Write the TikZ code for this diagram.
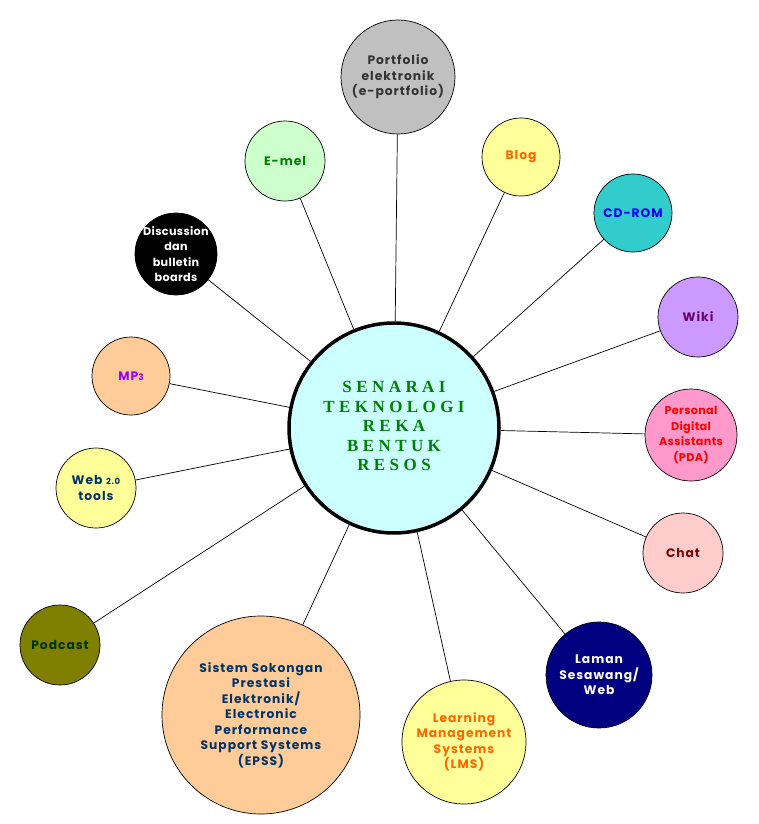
\documentclass[tikz,border=0pt]{standalone}
\usepackage{fontspec}
\setmainfont{Poppins}[LetterSpace=8]
\newfontfamily\titlefont[LetterSpace=26]{Liberation Serif}
\pgfdeclarelayer{bg}
\pgfsetlayers{bg,main}
\definecolor{centrefill}{HTML}{CCFFFF}
\definecolor{titlegreen}{HTML}{008000}
\definecolor{navytext}{HTML}{003366}
\definecolor{orangetext}{HTML}{FF6600}
\tikzset{
    every node/.style={circle, inner sep=-30pt, draw, line width=0.7pt, align=center,
        font=\fontsize{12.3}{15.5}\selectfont\bfseries},
    tight/.style={font=\fontsize{11.2}{15.5}\selectfont\addfontfeature{LetterSpace=3}\bfseries}
}

\begin{document}
\begin{tikzpicture}[x=1pt, y=-1pt]
    \useasboundingbox (0,0) rectangle (758,824);

    \node (hub) at (394,428) [minimum size=210, line width=3.5pt, fill=centrefill,
        text=titlegreen, font=\fontsize{17}{19.5}\selectfont\titlefont\bfseries]
        {\raisebox{-3pt}{\begin{tabular}{@{}c@{}}SENARAI\\TEKNOLOGI\\REKA\\BENTUK\\RESOS\end{tabular}}};

    \node (port) at (398,77) [minimum size=114, fill={rgb,255:red,192;green,192;blue,192},
        text={rgb,255:red,51;green,51;blue,51}] {Portfolio\\elektronik\\(e-portfolio)};
    \node (emel) at (285,161) [minimum size=80, fill={rgb,255:red,204;green,255;blue,204},
        text=titlegreen] {E-mel};
    \node (blog) at (521,157) [minimum size=78, fill={rgb,255:red,255;green,255;blue,153},
        text=orangetext] {Blog};
    \node (cdrom) at (633,213) [minimum size=78, fill={rgb,255:red,51;green,204;blue,204},
        text=blue] {CD-ROM};
    \node (disc) at (176,254) [minimum size=82, fill=black, text=white, tight]
        {Discussion\\dan\\bulletin\\boards};
    \node (wiki) at (698,317) [minimum size=80, fill={rgb,255:red,204;green,153;blue,255},
        text={rgb,255:red,102;green,0;blue,102}] {Wiki};
    \node (mp) at (131,376) [minimum size=78, fill={rgb,255:red,255;green,204;blue,153},
        text={rgb,255:red,153;green,0;blue,255}] {MP{\fontsize{9}{9}\selectfont 3}};
    \node (pda) at (691,435) [minimum size=92, fill={rgb,255:red,255;green,153;blue,204},
        text=red, tight] {Personal\\Digital\\Assistants\\(PDA)};
    \node (webtools) at (96,488) [minimum size=80, fill={rgb,255:red,255;green,255;blue,153},
        text=navytext] {Web {\fontsize{8.5}{8.5}\selectfont 2.0}\\tools};
    \node (chat) at (683,553) [minimum size=80, fill={rgb,255:red,255;green,204;blue,204},
        text={rgb,255:red,128;green,0;blue,0}] {Chat};
    \node (podcast) at (60,645) [minimum size=80, fill={rgb,255:red,128;green,128;blue,0},
        text={rgb,255:red,0;green,51;blue,0}] {Podcast};
    \node (laman) at (599,675) [minimum size=106, fill={rgb,255:red,0;green,0;blue,128},
        text=white] {Laman\\Sesawang/\\Web};
    \node (epss) at (261,715) [minimum size=198, fill={rgb,255:red,255;green,204;blue,153},
        text=navytext]
        {Sistem Sokongan\\Prestasi\\Elektronik/\\Electronic\\Performance\\Support Systems\\(EPSS)};
    \node (lms) at (464,742) [minimum size=124, fill={rgb,255:red,255;green,255;blue,153},
        text=orangetext] {Learning\\Management\\Systems\\(LMS)};

    \begin{pgfonlayer}{bg}
        \foreach \spoke in {port,emel,blog,cdrom,disc,wiki,mp,pda,webtools,chat,podcast,laman,epss,lms}
            \draw[line width=0.7pt] (hub) edge (\spoke);
    \end{pgfonlayer}
\end{tikzpicture}
\end{document}
